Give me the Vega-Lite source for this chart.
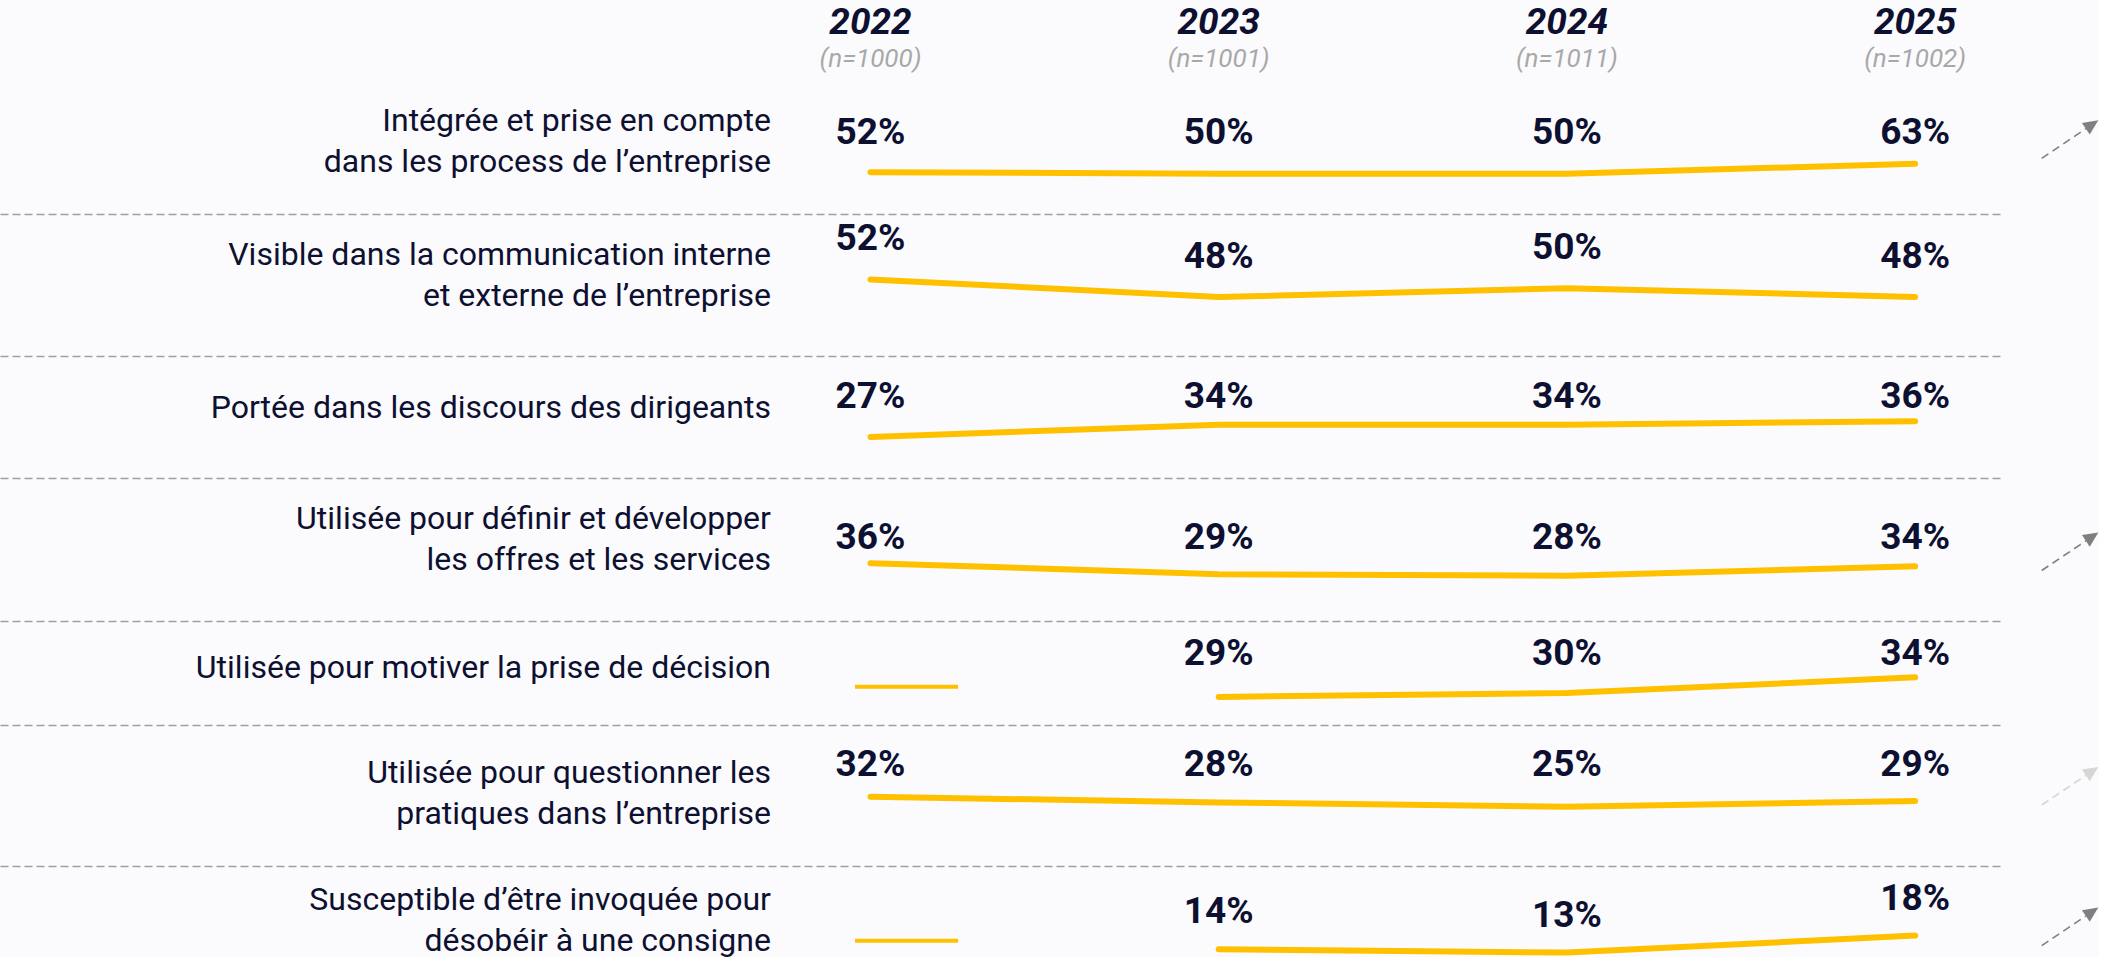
{
  "$schema": "https://vega.github.io/schema/vega-lite/v6.json",
  "background": "#fbfbfd",
  "padding": 0,
  "spacing": 0,
  "bounds": "flush",
  "config": {"view": {"stroke": null}, "font": "Roboto"},
  "datasets": {
    "vagues": [
      {"annee": 2022, "echantillon": "(n=1000)"},
      {"annee": 2023, "echantillon": "(n=1001)"},
      {"annee": 2024, "echantillon": "(n=1011)"},
      {"annee": 2025, "echantillon": "(n=1002)"}
    ],
    "indicateurs": [
      {"rang": 1, "libelle": ["Intégrée et prise en compte", "dans les process de l’entreprise"], "tendance": "hausse significative"},
      {"rang": 2, "libelle": ["Visible dans la communication interne", "et externe de l’entreprise"], "tendance": null},
      {"rang": 3, "libelle": ["Portée dans les discours des dirigeants"], "tendance": null},
      {"rang": 4, "libelle": ["Utilisée pour définir et développer", "les offres et les services"], "tendance": "hausse significative"},
      {"rang": 5, "libelle": ["Utilisée pour motiver la prise de décision"], "tendance": null},
      {"rang": 6, "libelle": ["Utilisée pour questionner les", "pratiques dans l’entreprise"], "tendance": "hausse non significative"},
      {"rang": 7, "libelle": ["Susceptible d’être invoquée pour", "désobéir à une consigne"], "tendance": "hausse significative"}
    ],
    "resultats": [
      {"rang": 1, "annee": 2022, "part": 0.52}, {"rang": 1, "annee": 2023, "part": 0.50}, {"rang": 1, "annee": 2024, "part": 0.50}, {"rang": 1, "annee": 2025, "part": 0.63},
      {"rang": 2, "annee": 2022, "part": 0.52}, {"rang": 2, "annee": 2023, "part": 0.48}, {"rang": 2, "annee": 2024, "part": 0.50}, {"rang": 2, "annee": 2025, "part": 0.48},
      {"rang": 3, "annee": 2022, "part": 0.27}, {"rang": 3, "annee": 2023, "part": 0.34}, {"rang": 3, "annee": 2024, "part": 0.34}, {"rang": 3, "annee": 2025, "part": 0.36},
      {"rang": 4, "annee": 2022, "part": 0.36}, {"rang": 4, "annee": 2023, "part": 0.29}, {"rang": 4, "annee": 2024, "part": 0.28}, {"rang": 4, "annee": 2025, "part": 0.34},
      {"rang": 5, "annee": 2023, "part": 0.29}, {"rang": 5, "annee": 2024, "part": 0.30}, {"rang": 5, "annee": 2025, "part": 0.34},
      {"rang": 6, "annee": 2022, "part": 0.32}, {"rang": 6, "annee": 2023, "part": 0.28}, {"rang": 6, "annee": 2024, "part": 0.25}, {"rang": 6, "annee": 2025, "part": 0.29},
      {"rang": 7, "annee": 2023, "part": 0.14}, {"rang": 7, "annee": 2024, "part": 0.13}, {"rang": 7, "annee": 2025, "part": 0.18}
    ]
  },
  "vconcat": [
    {
      "width": 2004, "height": 71,
      "data": {"name": "vagues"},
      "layer": [
        {"mark": {"type": "text", "fontSize": 37, "fontWeight": "bold", "fontStyle": "italic", "color": "#0d1030", "baseline": "middle", "dy": -13},
         "encoding": {"x": {"field": "annee", "type": "quantitative", "scale": {"domain": [2019.5, 2025.2553], "nice": false, "zero": false}, "axis": null}, "text": {"field": "annee", "type": "quantitative", "format": "d"}}},
        {"mark": {"type": "text", "fontSize": 26, "fontStyle": "italic", "color": "#a8a8a8", "baseline": "middle", "dy": 23},
         "encoding": {"x": {"field": "annee", "type": "quantitative", "scale": {"domain": [2019.5, 2025.2553], "nice": false, "zero": false}, "axis": null}, "text": {"field": "echantillon"}}}
      ]
    },
    {
      "width": 2004, "height": 143,
      "layer": [
        {"data": {"name": "indicateurs"}, "transform": [{"filter": "datum.rang === 1"}],
         "mark": {"type": "text", "fontSize": 32, "lineHeight": 41, "align": "right", "baseline": "middle", "color": "#0d1030", "dy": -21.5},
         "encoding": {"x": {"datum": 2021.714, "type": "quantitative", "scale": {"domain": [2019.5, 2025.2553], "nice": false, "zero": false}, "axis": {"domainDash": [8, 4], "domainColor": "#a0a0a0", "domainWidth": 1.5, "labels": false, "ticks": false, "grid": false}, "title": null}, "text": {"field": "libelle"}}},
        {"data": {"name": "resultats"}, "transform": [{"filter": "datum.rang === 1"}],
         "mark": {"type": "line", "color": "#FFC000", "strokeWidth": 6, "strokeCap": "round", "strokeJoin": "round"},
         "encoding": {"x": {"field": "annee", "type": "quantitative", "scale": {"domain": [2019.5, 2025.2553], "nice": false, "zero": false}, "axis": {"domainDash": [8, 4], "domainColor": "#a0a0a0", "domainWidth": 1.5, "labels": false, "ticks": false, "grid": false}, "title": null}, "y": {"field": "part", "type": "quantitative", "scale": {"domain": [-0.023, 1.834], "nice": false, "zero": false}, "axis": null}}},
        {"data": {"name": "resultats"}, "transform": [{"filter": "datum.rang === 1"}],
         "mark": {"type": "text", "fontSize": 37, "fontWeight": "bold", "color": "#0d1030", "baseline": "middle", "dy": -10},
         "encoding": {"x": {"field": "annee", "type": "quantitative", "scale": {"domain": [2019.5, 2025.2553], "nice": false, "zero": false}, "axis": {"domainDash": [8, 4], "domainColor": "#a0a0a0", "domainWidth": 1.5, "labels": false, "ticks": false, "grid": false}, "title": null}, "text": {"field": "part", "type": "quantitative", "format": ".0%"}}},
        {"data": {"name": "indicateurs"}, "transform": [{"filter": "datum.rang === 1"}],
         "mark": {"type": "point", "shape": "M -0.943 0.633 L 0.528 -0.354", "size": 3600, "filled": false, "strokeWidth": 1.6, "strokeDash": [8, 5], "opacity": 1},
         "encoding": {"x": {"datum": 2025.4449, "type": "quantitative", "scale": {"domain": [2019.5, 2025.2553], "nice": false, "zero": false}, "axis": {"domainDash": [8, 4], "domainColor": "#a0a0a0", "domainWidth": 1.5, "labels": false, "ticks": false, "grid": false}, "title": null}, "y": {"datum": 0.947, "type": "quantitative", "axis": null}, "color": {"field": "tendance", "type": "nominal", "scale": {"domain": ["hausse significative", "hausse non significative"], "range": ["#7f7f7f", "#d6d6d6"]}, "legend": null}}},
        {"data": {"name": "indicateurs"}, "transform": [{"filter": "datum.rang === 1"}],
         "mark": {"type": "point", "shape": "M 0.943 -0.633 L 0.398 -0.547 L 0.658 -0.161 Z", "size": 3600, "filled": true, "strokeWidth": 0, "opacity": 1},
         "encoding": {"x": {"datum": 2025.4449, "type": "quantitative", "scale": {"domain": [2019.5, 2025.2553], "nice": false, "zero": false}, "axis": {"domainDash": [8, 4], "domainColor": "#a0a0a0", "domainWidth": 1.5, "labels": false, "ticks": false, "grid": false}, "title": null}, "y": {"datum": 0.947, "type": "quantitative", "axis": null}, "color": {"field": "tendance", "type": "nominal", "scale": {"domain": ["hausse significative", "hausse non significative"], "range": ["#7f7f7f", "#d6d6d6"]}, "legend": null}}}
      ]
    },
    {
      "width": 2004, "height": 142,
      "layer": [
        {"data": {"name": "indicateurs"}, "transform": [{"filter": "datum.rang === 2"}],
         "mark": {"type": "text", "fontSize": 32, "lineHeight": 41, "align": "right", "baseline": "middle", "color": "#0d1030", "dy": -30},
         "encoding": {"x": {"datum": 2021.714, "type": "quantitative", "scale": {"domain": [2019.5, 2025.2553], "nice": false, "zero": false}, "axis": {"domainDash": [8, 4], "domainColor": "#a0a0a0", "domainWidth": 1.5, "labels": false, "ticks": false, "grid": false}, "title": null}, "text": {"field": "libelle"}}},
        {"data": {"name": "resultats"}, "transform": [{"filter": "datum.rang === 2"}],
         "mark": {"type": "line", "color": "#FFC000", "strokeWidth": 6, "strokeCap": "round", "strokeJoin": "round"},
         "encoding": {"x": {"field": "annee", "type": "quantitative", "scale": {"domain": [2019.5, 2025.2553], "nice": false, "zero": false}, "axis": {"domainDash": [8, 4], "domainColor": "#a0a0a0", "domainWidth": 1.5, "labels": false, "ticks": false, "grid": false}, "title": null}, "y": {"field": "part", "type": "quantitative", "scale": {"domain": [0.3459, 0.6686], "nice": false, "zero": false}, "axis": null}}},
        {"data": {"name": "resultats"}, "transform": [{"filter": "datum.rang === 2"}],
         "mark": {"type": "text", "fontSize": 37, "fontWeight": "bold", "color": "#0d1030", "baseline": "middle", "dy": -40},
         "encoding": {"x": {"field": "annee", "type": "quantitative", "scale": {"domain": [2019.5, 2025.2553], "nice": false, "zero": false}, "axis": {"domainDash": [8, 4], "domainColor": "#a0a0a0", "domainWidth": 1.5, "labels": false, "ticks": false, "grid": false}, "title": null}, "y": {"field": "part", "type": "quantitative", "axis": null}, "text": {"field": "part", "type": "quantitative", "format": ".0%"}}}
      ]
    },
    {
      "width": 2004, "height": 122,
      "layer": [
        {"data": {"name": "indicateurs"}, "transform": [{"filter": "datum.rang === 3"}],
         "mark": {"type": "text", "fontSize": 32, "lineHeight": 41, "align": "right", "baseline": "middle", "color": "#0d1030", "dy": -9.5},
         "encoding": {"x": {"datum": 2021.714, "type": "quantitative", "scale": {"domain": [2019.5, 2025.2553], "nice": false, "zero": false}, "axis": {"domainDash": [8, 4], "domainColor": "#a0a0a0", "domainWidth": 1.5, "labels": false, "ticks": false, "grid": false}, "title": null}, "text": {"field": "libelle"}}},
        {"data": {"name": "resultats"}, "transform": [{"filter": "datum.rang === 3"}],
         "mark": {"type": "line", "color": "#FFC000", "strokeWidth": 6, "strokeCap": "round", "strokeJoin": "round"},
         "encoding": {"x": {"field": "annee", "type": "quantitative", "scale": {"domain": [2019.5, 2025.2553], "nice": false, "zero": false}, "axis": {"domainDash": [8, 4], "domainColor": "#a0a0a0", "domainWidth": 1.5, "labels": false, "ticks": false, "grid": false}, "title": null}, "y": {"field": "part", "type": "quantitative", "scale": {"domain": [0.0355, 0.7326], "nice": false, "zero": false}, "axis": null}}},
        {"data": {"name": "resultats"}, "transform": [{"filter": "datum.rang === 3"}],
         "mark": {"type": "text", "fontSize": 37, "fontWeight": "bold", "color": "#0d1030", "baseline": "middle", "dy": -20},
         "encoding": {"x": {"field": "annee", "type": "quantitative", "scale": {"domain": [2019.5, 2025.2553], "nice": false, "zero": false}, "axis": {"domainDash": [8, 4], "domainColor": "#a0a0a0", "domainWidth": 1.5, "labels": false, "ticks": false, "grid": false}, "title": null}, "text": {"field": "part", "type": "quantitative", "format": ".0%"}}}
      ]
    },
    {
      "width": 2004, "height": 143,
      "layer": [
        {"data": {"name": "indicateurs"}, "transform": [{"filter": "datum.rang === 4"}],
         "mark": {"type": "text", "fontSize": 32, "lineHeight": 41, "align": "right", "baseline": "middle", "color": "#0d1030", "dy": -30.5},
         "encoding": {"x": {"datum": 2021.714, "type": "quantitative", "scale": {"domain": [2019.5, 2025.2553], "nice": false, "zero": false}, "axis": {"domainDash": [8, 4], "domainColor": "#a0a0a0", "domainWidth": 1.5, "labels": false, "ticks": false, "grid": false}, "title": null}, "text": {"field": "libelle"}}},
        {"data": {"name": "resultats"}, "transform": [{"filter": "datum.rang === 4"}],
         "mark": {"type": "line", "color": "#FFC000", "strokeWidth": 6, "strokeCap": "round", "strokeJoin": "round"},
         "encoding": {"x": {"field": "annee", "type": "quantitative", "scale": {"domain": [2019.5, 2025.2553], "nice": false, "zero": false}, "axis": {"domainDash": [8, 4], "domainColor": "#a0a0a0", "domainWidth": 1.5, "labels": false, "ticks": false, "grid": false}, "title": null}, "y": {"field": "part", "type": "quantitative", "scale": {"domain": [-0.0074, 0.9017], "nice": false, "zero": false}, "axis": null}}},
        {"data": {"name": "resultats"}, "transform": [{"filter": "datum.rang === 4"}],
         "mark": {"type": "text", "fontSize": 37, "fontWeight": "bold", "color": "#0d1030", "baseline": "middle", "dy": -12},
         "encoding": {"x": {"field": "annee", "type": "quantitative", "scale": {"domain": [2019.5, 2025.2553], "nice": false, "zero": false}, "axis": {"domainDash": [8, 4], "domainColor": "#a0a0a0", "domainWidth": 1.5, "labels": false, "ticks": false, "grid": false}, "title": null}, "text": {"field": "part", "type": "quantitative", "format": ".0%"}}},
        {"data": {"name": "indicateurs"}, "transform": [{"filter": "datum.rang === 4"}],
         "mark": {"type": "point", "shape": "M -0.943 0.633 L 0.528 -0.354", "size": 3600, "filled": false, "strokeWidth": 1.6, "strokeDash": [8, 5], "opacity": 1},
         "encoding": {"x": {"datum": 2025.4449, "type": "quantitative", "scale": {"domain": [2019.5, 2025.2553], "nice": false, "zero": false}, "axis": {"domainDash": [8, 4], "domainColor": "#a0a0a0", "domainWidth": 1.5, "labels": false, "ticks": false, "grid": false}, "title": null}, "y": {"datum": 0.4344, "type": "quantitative", "axis": null}, "color": {"field": "tendance", "type": "nominal", "scale": {"domain": ["hausse significative", "hausse non significative"], "range": ["#7f7f7f", "#d6d6d6"]}, "legend": null}}},
        {"data": {"name": "indicateurs"}, "transform": [{"filter": "datum.rang === 4"}],
         "mark": {"type": "point", "shape": "M 0.943 -0.633 L 0.398 -0.547 L 0.658 -0.161 Z", "size": 3600, "filled": true, "strokeWidth": 0, "opacity": 1},
         "encoding": {"x": {"datum": 2025.4449, "type": "quantitative", "scale": {"domain": [2019.5, 2025.2553], "nice": false, "zero": false}, "axis": {"domainDash": [8, 4], "domainColor": "#a0a0a0", "domainWidth": 1.5, "labels": false, "ticks": false, "grid": false}, "title": null}, "y": {"datum": 0.4344, "type": "quantitative", "axis": null}, "color": {"field": "tendance", "type": "nominal", "scale": {"domain": ["hausse significative", "hausse non significative"], "range": ["#7f7f7f", "#d6d6d6"]}, "legend": null}}}
      ]
    },
    {
      "width": 2004, "height": 104,
      "layer": [
        {"data": {"name": "indicateurs"}, "transform": [{"filter": "datum.rang === 5"}],
         "mark": {"type": "text", "fontSize": 32, "lineHeight": 41, "align": "right", "baseline": "middle", "color": "#0d1030", "dy": -5},
         "encoding": {"x": {"datum": 2021.714, "type": "quantitative", "scale": {"domain": [2019.5, 2025.2553], "nice": false, "zero": false}, "axis": {"domainDash": [8, 4], "domainColor": "#a0a0a0", "domainWidth": 1.5, "labels": false, "ticks": false, "grid": false}, "title": null}, "text": {"field": "libelle"}}},
        {"data": {"name": "indicateurs"}, "transform": [{"filter": "datum.rang === 5"}],
         "mark": {"type": "rule", "color": "#FFC000", "strokeWidth": 4},
         "encoding": {"x": {"datum": 2021.9555, "type": "quantitative", "scale": {"domain": [2019.5, 2025.2553], "nice": false, "zero": false}, "axis": {"domainDash": [8, 4], "domainColor": "#a0a0a0", "domainWidth": 1.5, "labels": false, "ticks": false, "grid": false}, "title": null}, "x2": {"datum": 2022.2513}, "y": {"datum": 0.316, "type": "quantitative", "axis": null}}},
        {"data": {"name": "resultats"}, "transform": [{"filter": "datum.rang === 5"}],
         "mark": {"type": "line", "color": "#FFC000", "strokeWidth": 6, "strokeCap": "round", "strokeJoin": "round"},
         "encoding": {"x": {"field": "annee", "type": "quantitative", "scale": {"domain": [2019.5, 2025.2553], "nice": false, "zero": false}, "axis": {"domainDash": [8, 4], "domainColor": "#a0a0a0", "domainWidth": 1.5, "labels": false, "ticks": false, "grid": false}, "title": null}, "y": {"field": "part", "type": "quantitative", "scale": {"domain": [0.2183, 0.484], "nice": false, "zero": false}, "axis": null}}},
        {"data": {"name": "resultats"}, "transform": [{"filter": "datum.rang === 5"}],
         "mark": {"type": "text", "fontSize": 37, "fontWeight": "bold", "color": "#0d1030", "baseline": "middle", "dy": -19},
         "encoding": {"x": {"field": "annee", "type": "quantitative", "scale": {"domain": [2019.5, 2025.2553], "nice": false, "zero": false}, "axis": {"domainDash": [8, 4], "domainColor": "#a0a0a0", "domainWidth": 1.5, "labels": false, "ticks": false, "grid": false}, "title": null}, "text": {"field": "part", "type": "quantitative", "format": ".0%"}}}
      ]
    },
    {
      "width": 2004, "height": 141,
      "layer": [
        {"data": {"name": "indicateurs"}, "transform": [{"filter": "datum.rang === 6"}],
         "mark": {"type": "text", "fontSize": 32, "lineHeight": 41, "align": "right", "baseline": "middle", "color": "#0d1030", "dy": -22.5},
         "encoding": {"x": {"datum": 2021.714, "type": "quantitative", "scale": {"domain": [2019.5, 2025.2553], "nice": false, "zero": false}, "axis": {"domainDash": [8, 4], "domainColor": "#a0a0a0", "domainWidth": 1.5, "labels": false, "ticks": false, "grid": false}, "title": null}, "text": {"field": "libelle"}}},
        {"data": {"name": "resultats"}, "transform": [{"filter": "datum.rang === 6"}],
         "mark": {"type": "line", "color": "#FFC000", "strokeWidth": 6, "strokeCap": "round", "strokeJoin": "round"},
         "encoding": {"x": {"field": "annee", "type": "quantitative", "scale": {"domain": [2019.5, 2025.2553], "nice": false, "zero": false}, "axis": {"domainDash": [8, 4], "domainColor": "#a0a0a0", "domainWidth": 1.5, "labels": false, "ticks": false, "grid": false}, "title": null}, "y": {"field": "part", "type": "quantitative", "scale": {"domain": [-0.1659, 0.8229], "nice": false, "zero": false}, "axis": null}}},
        {"data": {"name": "resultats"}, "transform": [{"filter": "datum.rang === 6"}],
         "mark": {"type": "text", "fontSize": 37, "fontWeight": "bold", "color": "#0d1030", "baseline": "middle", "dy": -31},
         "encoding": {"x": {"field": "annee", "type": "quantitative", "scale": {"domain": [2019.5, 2025.2553], "nice": false, "zero": false}, "axis": {"domainDash": [8, 4], "domainColor": "#a0a0a0", "domainWidth": 1.5, "labels": false, "ticks": false, "grid": false}, "title": null}, "text": {"field": "part", "type": "quantitative", "format": ".0%"}}},
        {"data": {"name": "indicateurs"}, "transform": [{"filter": "datum.rang === 6"}],
         "mark": {"type": "point", "shape": "M -0.943 0.633 L 0.528 -0.354", "size": 3600, "filled": false, "strokeWidth": 1.6, "strokeDash": [8, 5], "opacity": 1},
         "encoding": {"x": {"datum": 2025.4449, "type": "quantitative", "scale": {"domain": [2019.5, 2025.2553], "nice": false, "zero": false}, "axis": {"domainDash": [8, 4], "domainColor": "#a0a0a0", "domainWidth": 1.5, "labels": false, "ticks": false, "grid": false}, "title": null}, "y": {"datum": 0.3951, "type": "quantitative", "axis": null}, "color": {"field": "tendance", "type": "nominal", "scale": {"domain": ["hausse significative", "hausse non significative"], "range": ["#7f7f7f", "#d6d6d6"]}, "legend": null}}},
        {"data": {"name": "indicateurs"}, "transform": [{"filter": "datum.rang === 6"}],
         "mark": {"type": "point", "shape": "M 0.943 -0.633 L 0.398 -0.547 L 0.658 -0.161 Z", "size": 3600, "filled": true, "strokeWidth": 0, "opacity": 1},
         "encoding": {"x": {"datum": 2025.4449, "type": "quantitative", "scale": {"domain": [2019.5, 2025.2553], "nice": false, "zero": false}, "axis": {"domainDash": [8, 4], "domainColor": "#a0a0a0", "domainWidth": 1.5, "labels": false, "ticks": false, "grid": false}, "title": null}, "y": {"datum": 0.3951, "type": "quantitative", "axis": null}, "color": {"field": "tendance", "type": "nominal", "scale": {"domain": ["hausse significative", "hausse non significative"], "range": ["#7f7f7f", "#d6d6d6"]}, "legend": null}}}
      ]
    },
    {
      "width": 2004, "height": 91,
      "layer": [
        {"data": {"name": "indicateurs"}, "transform": [{"filter": "datum.rang === 7"}],
         "mark": {"type": "text", "fontSize": 32, "lineHeight": 41, "align": "right", "baseline": "middle", "color": "#0d1030", "dy": -12},
         "encoding": {"x": {"datum": 2021.714, "type": "quantitative", "scale": {"domain": [2019.5, 2025.2553], "nice": false, "zero": false}, "axis": null, "title": null}, "text": {"field": "libelle"}}},
        {"data": {"name": "indicateurs"}, "transform": [{"filter": "datum.rang === 7"}],
         "mark": {"type": "rule", "color": "#FFC000", "strokeWidth": 4},
         "encoding": {"x": {"datum": 2021.9555, "type": "quantitative", "scale": {"domain": [2019.5, 2025.2553], "nice": false, "zero": false}, "axis": null, "title": null}, "x2": {"datum": 2022.2513}, "y": {"datum": 0.1646, "type": "quantitative", "axis": null}}},
        {"data": {"name": "resultats"}, "transform": [{"filter": "datum.rang === 7"}],
         "mark": {"type": "line", "color": "#FFC000", "strokeWidth": 6, "strokeCap": "round", "strokeJoin": "round"},
         "encoding": {"x": {"field": "annee", "type": "quantitative", "scale": {"domain": [2019.5, 2025.2553], "nice": false, "zero": false}, "axis": null, "title": null}, "y": {"field": "part", "type": "quantitative", "scale": {"domain": [0.117, 0.385], "nice": false, "zero": false}, "axis": null}}},
        {"data": {"name": "resultats"}, "transform": [{"filter": "datum.rang === 7"}],
         "mark": {"type": "text", "fontSize": 37, "fontWeight": "bold", "color": "#0d1030", "baseline": "middle", "dy": -37},
         "encoding": {"x": {"field": "annee", "type": "quantitative", "scale": {"domain": [2019.5, 2025.2553], "nice": false, "zero": false}, "axis": null, "title": null}, "y": {"field": "part", "type": "quantitative", "axis": null}, "text": {"field": "part", "type": "quantitative", "format": ".0%"}}},
        {"data": {"name": "indicateurs"}, "transform": [{"filter": "datum.rang === 7"}],
         "mark": {"type": "point", "shape": "M -0.943 0.633 L 0.528 -0.354", "size": 3600, "filled": false, "strokeWidth": 1.6, "strokeDash": [8, 5], "opacity": 1},
         "encoding": {"x": {"datum": 2025.4449, "type": "quantitative", "scale": {"domain": [2019.5, 2025.2553], "nice": false, "zero": false}, "axis": null, "title": null}, "y": {"datum": 0.2065, "type": "quantitative", "axis": null}, "color": {"field": "tendance", "type": "nominal", "scale": {"domain": ["hausse significative", "hausse non significative"], "range": ["#7f7f7f", "#d6d6d6"]}, "legend": null}}},
        {"data": {"name": "indicateurs"}, "transform": [{"filter": "datum.rang === 7"}],
         "mark": {"type": "point", "shape": "M 0.943 -0.633 L 0.398 -0.547 L 0.658 -0.161 Z", "size": 3600, "filled": true, "strokeWidth": 0, "opacity": 1},
         "encoding": {"x": {"datum": 2025.4449, "type": "quantitative", "scale": {"domain": [2019.5, 2025.2553], "nice": false, "zero": false}, "axis": null, "title": null}, "y": {"datum": 0.2065, "type": "quantitative", "axis": null}, "color": {"field": "tendance", "type": "nominal", "scale": {"domain": ["hausse significative", "hausse non significative"], "range": ["#7f7f7f", "#d6d6d6"]}, "legend": null}}}
      ]
    }
  ]
}
